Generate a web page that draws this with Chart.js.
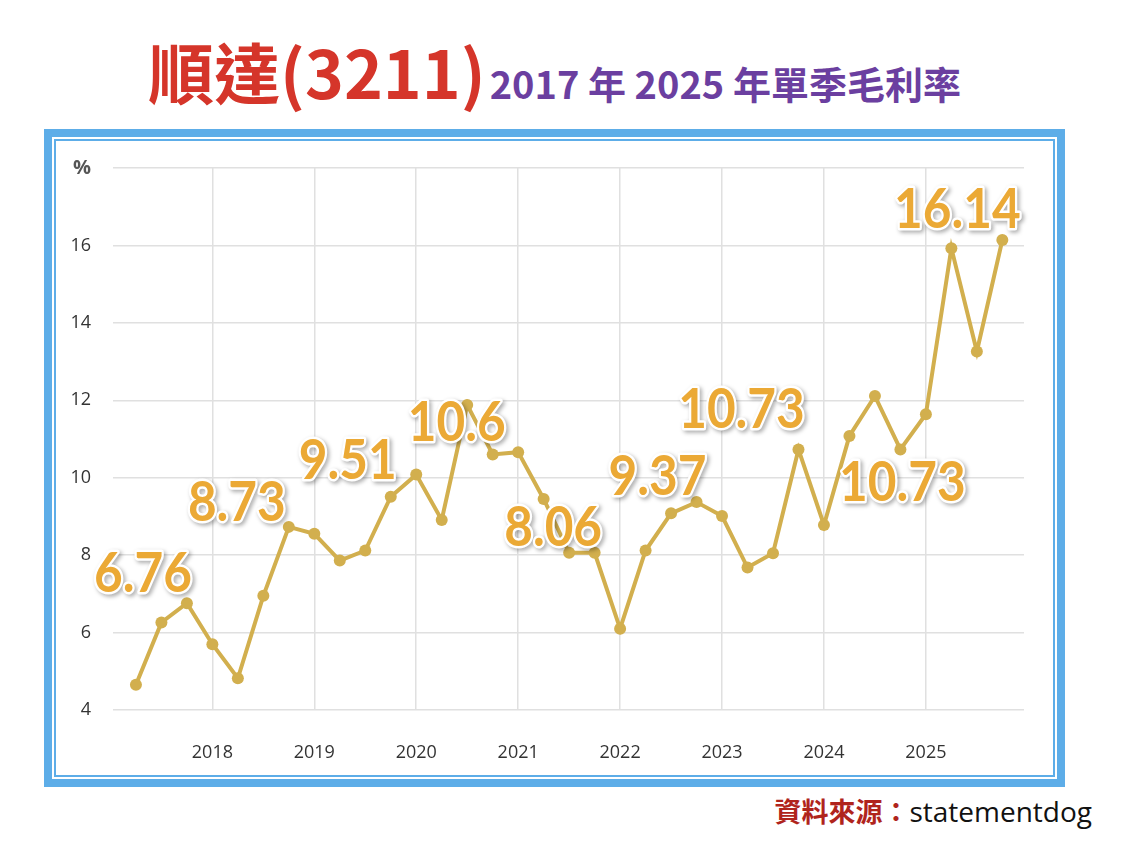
<!DOCTYPE html>
<html lang="zh-Hant">
<head>
<meta charset="utf-8">
<title>順達(3211) 單季毛利率</title>
<script src="https://cdn.jsdelivr.net/npm/chart.js@4.4.0/dist/chart.umd.min.js"></script>
<style>
  html, body { margin: 0; padding: 0; background: #fff; }
  body { width: 1122px; height: 850px; position: relative; overflow: hidden; }
  .title {
    position: absolute; left: 148px; top: 37px;
    display: flex; align-items: baseline; line-height: 1;
    font-family: "Noto Sans CJK TC", sans-serif; white-space: nowrap;
  }
  .title .name { color: #D5352A; font-size: 66px; font-weight: 700; }
  .title .sub { color: #6B3FA0; font-size: 38px; font-weight: 700; margin-left: 4px; }
  .frame {
    position: absolute; left: 44px; top: 129px; width: 1005px; height: 642px;
    border: 8px solid #5DADE8;
  }
  .frame .inner {
    position: absolute; left: 2px; top: 2px; right: 2px; bottom: 2px;
    border: 2px solid #5DADE8;
  }
  #chart { position: absolute; left: 56px; top: 142px; }
  .source {
    position: absolute; right: 30px; top: 797px; line-height: 1;
    font-family: "Noto Sans CJK TC", sans-serif; font-size: 27px; white-space: nowrap;
  }
  .source .lbl { color: #B0241C; font-weight: 700; }
  .source .site { color: #111; font-family: "Open Sans", sans-serif; font-size: 28px; }
</style>
</head>
<body>
<div class="title"><span class="name">順達(3211)</span><span class="sub">2017 年 2025 年單季毛利率</span></div>
<div class="frame"><div class="inner"></div></div>
<canvas id="chart" width="996" height="630"></canvas>
<div class="source"><span class="lbl">資料來源：</span><span class="site">statementdog</span></div>

<script>
// quarterly gross margin (%), 2017Q1 - 2025Q3
const quarters = [
  '2017Q1', '2017Q2', '2017Q3', '2017Q4',
  '2018Q1', '2018Q2', '2018Q3', '2018Q4',
  '2019Q1', '2019Q2', '2019Q3', '2019Q4',
  '2020Q1', '2020Q2', '2020Q3', '2020Q4',
  '2021Q1', '2021Q2', '2021Q3', '2021Q4',
  '2022Q1', '2022Q2', '2022Q3', '2022Q4',
  '2023Q1', '2023Q2', '2023Q3', '2023Q4',
  '2024Q1', '2024Q2', '2024Q3', '2024Q4',
  '2025Q1', '2025Q2', '2025Q3'
];
const grossMargin = [
  4.65, 6.26, 6.76, 5.70,
  4.82, 6.95, 8.73, 8.55,
  7.86, 8.12, 9.51, 10.08,
  8.91, 11.88, 10.60, 10.66,
  9.45, 8.06, 8.06, 6.10,
  8.12, 9.08, 9.37, 9.01,
  7.68, 8.05, 10.73, 8.78,
  11.08, 12.11, 10.73, 11.64,
  15.93, 13.26, 16.14
];
const yearLabels = ['2018', '2019', '2020', '2021', '2022', '2023', '2024', '2025'];
const yTicks = [4, 6, 8, 10, 12, 14, 16, 18];

// big callout numbers written over the chart
const calloutIndex = [2, 6, 10, 14, 17, 22, 26, 30, 34];
const calloutText = ['6.76', '8.73', '9.51', '10.6', '8.06', '9.37', '10.73', '10.73', '16.14'];

// where each callout sits relative to its point (px)
const calloutOffset = [
  [-44, -31], [-52, -26], [-43, -38], [-36, -33], [-16, -27],
  [-39, -27], [-57, -41], [2, 32], [-45, -32]
];

const calloutPlugin = {
  id: 'callouts',
  afterDatasetsDraw(chart) {
    const ctx = chart.ctx;
    const pts = chart.getDatasetMeta(0).data;
    const sx = 0.9; // squeeze a bit, the original font is narrow
    ctx.save();
    ctx.font = 'bold 55px Lato';
    ctx.textAlign = 'center';
    ctx.textBaseline = 'alphabetic';
    ctx.lineJoin = 'round';
    calloutIndex.forEach((idx, k) => {
      const x = pts[idx].x + calloutOffset[k][0];
      const y = pts[idx].y + calloutOffset[k][1] + 20;
      ctx.save();
      ctx.translate(x, y);
      ctx.scale(sx, 1);
      ctx.shadowColor = 'rgba(0,0,0,0.35)';
      ctx.shadowBlur = 4;
      ctx.shadowOffsetX = 2;
      ctx.shadowOffsetY = 2;
      ctx.strokeStyle = '#fff';
      ctx.lineWidth = 5;
      ctx.strokeText(calloutText[k], 0, 0);
      ctx.shadowColor = 'transparent';
      ctx.fillStyle = '#EBA935';
      ctx.fillText(calloutText[k], 0, 0);
      ctx.restore();
    });
    ctx.restore();
  }
};

const gridColor = '#e0e0e0';
const tickFont = { size: 18, family: 'Open Sans' };

new Chart(document.getElementById('chart'), {
  type: 'line',
  data: {
    datasets: [{
      data: grossMargin.map((v, i) => ({ x: i, y: v })),
      borderColor: '#D2AF4E',
      backgroundColor: '#D2AF4E',
      borderWidth: 4,
      pointRadius: 6,
      pointBorderWidth: 0,
      tension: 0
    }]
  },
  options: {
    responsive: false,
    animation: false,
    layout: { padding: { top: 26, right: 28, left: 0, bottom: 0 } },
    plugins: {
      legend: { display: false },
      tooltip: { enabled: false }
    },
    scales: {
      x: {
        type: 'linear',
        min: -0.9,
        max: 34.85,
        afterBuildTicks: s => {
          s.ticks = yearLabels.map(y => ({ value: quarters.indexOf((y - 1) + 'Q4') }));
        },
        afterFit: s => { s.height = 62; },
        ticks: {
          autoSkip: false,
          maxRotation: 0,
          padding: 32,
          color: '#333',
          font: tickFont,
          callback: (v, i) => yearLabels[i]
        },
        grid: { color: gridColor, lineWidth: 1.5, drawTicks: false },
        border: { display: false }
      },
      y: {
        min: 4,
        max: 18,
        afterBuildTicks: s => { s.ticks = yTicks.map(v => ({ value: v })); },
        afterFit: s => { s.width = 57; },
        ticks: {
          padding: 22,
          color: c => (c.tick && c.tick.value === 18 ? '#555' : '#333'),
          // small lineHeight so the label overflow does not push the plot top down
          font: c => ({
            size: c.tick && c.tick.value === 18 ? 20 : 18,
            family: 'Open Sans',
            weight: c.tick && c.tick.value === 18 ? 'bold' : 'normal',
            lineHeight: 0.3
          }),
          callback: v => (v === 18 ? '%' : v)
        },
        grid: { color: gridColor, lineWidth: 1.5, drawTicks: false },
        border: { display: false }
      }
    }
  },
  plugins: [calloutPlugin]
});
</script>
</body>
</html>
